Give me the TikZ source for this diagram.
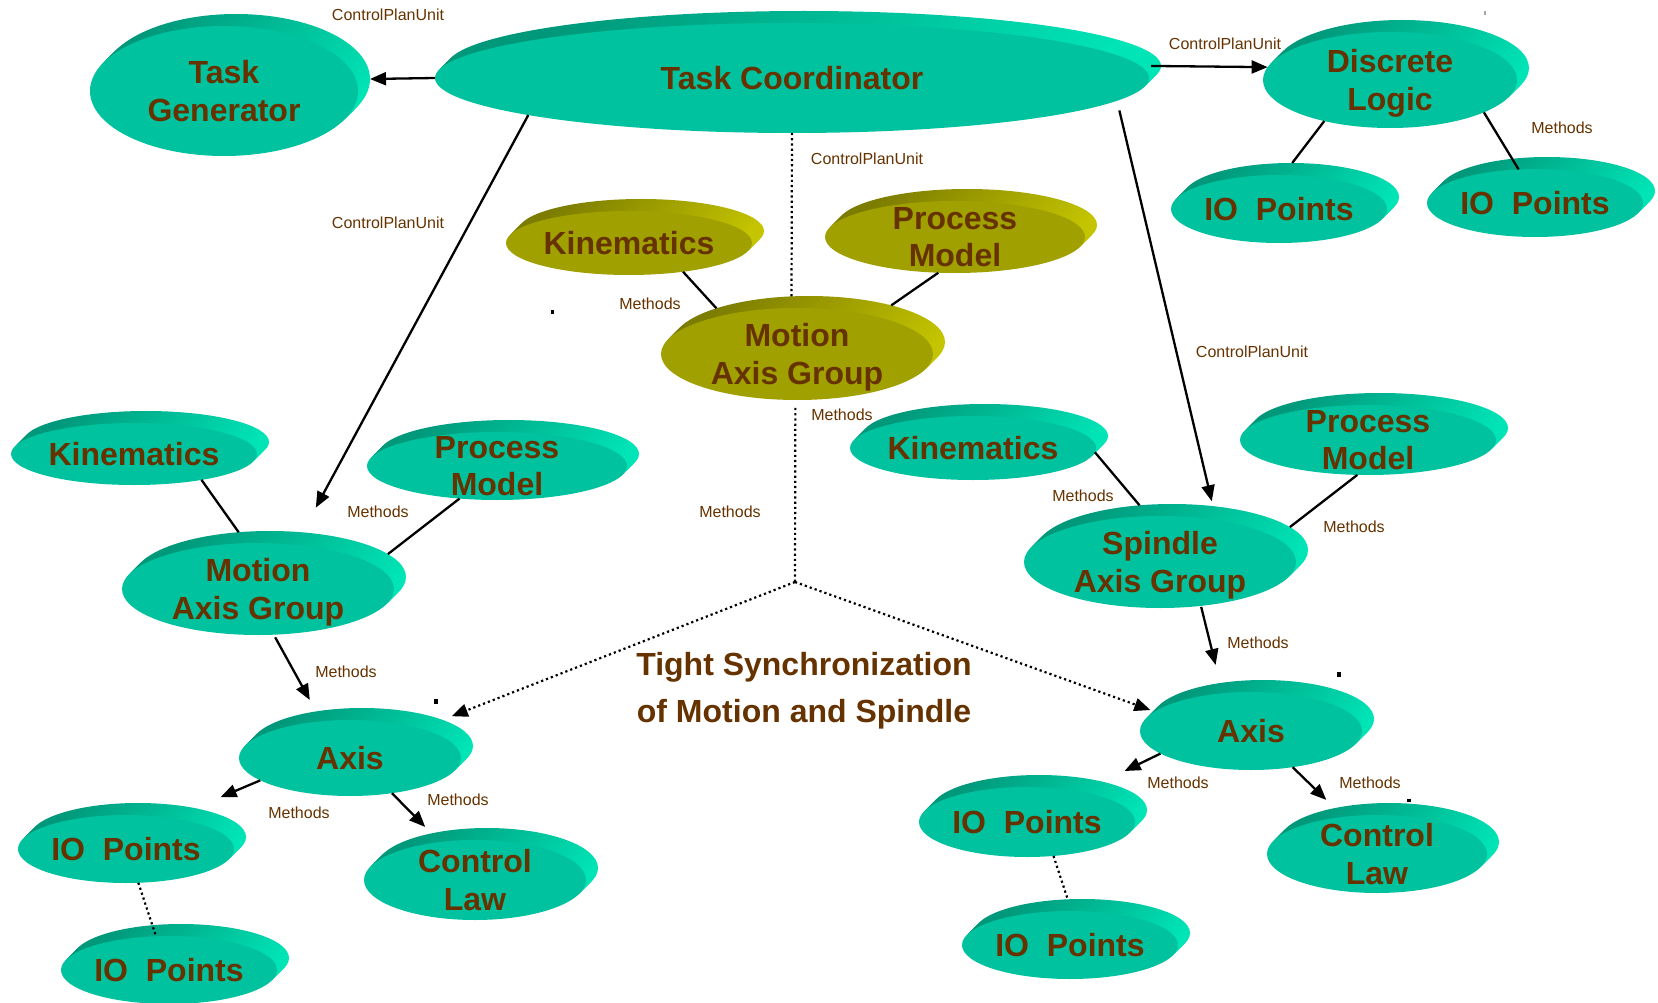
\documentclass[tikz,border=0pt]{standalone}
\usepackage{fontspec}
\setmainfont{Liberation Sans}
\usetikzlibrary{shapes.geometric,arrows.meta}
\definecolor{tealF}{RGB}{0,194,158}
\definecolor{tealD}{RGB}{0,152,122}
\definecolor{tealL}{RGB}{0,228,182}
\definecolor{oliveF}{RGB}{160,160,0}
\definecolor{oliveD}{RGB}{124,124,0}
\definecolor{oliveL}{RGB}{196,196,0}
\definecolor{brownT}{RGB}{102,51,0}
\tikzset{
 rimT/.style={top color=tealD, bottom color=tealL, shading angle=45},
 rimO/.style={top color=oliveD, bottom color=oliveL, shading angle=45},
 ghost/.style={ellipse, inner sep=0pt, outer sep=0pt, draw=none},
 frontT/.style={ellipse, inner sep=0pt, outer sep=0pt, fill=tealF},
 frontO/.style={ellipse, inner sep=0pt, outer sep=0pt, fill=oliveF},
 ntext/.style={text=brownT, font=\fontsize{32}{37.5}\selectfont\bfseries, align=center, inner sep=0pt},
 lbl/.style={text=brownT, font=\fontsize{16}{19}\selectfont, inner sep=0pt},
 conn/.style={line width=2.3pt, black},
 arr/.style={conn, -{Triangle[length=16pt,width=13pt]}},
 dots/.style={line width=2.2pt, black, dash pattern=on 2.2pt off 3pt},
 dotarr/.style={dots, -{Triangle[length=16pt,width=13pt]}},
}
% name, x, y, rx, ry, text, T/O
\newcommand\mydisk[7]{%
  \foreach \k in {12,10,8,6,4,2}{\path[rim#7] (#2+\k,#3-\k) ellipse [x radius=#4pt, y radius=#5pt];}
  \node[ghost, minimum width=2*#4pt, minimum height=2*#5pt] (#1B) at (#2+12,#3-12) {};
  \node[front#7, minimum width=2*#4pt, minimum height=2*#5pt] (#1) at (#2,#3) {};
  \node[ntext, text depth=0pt] (#1t) at (#1.center) {#6};
}
\begin{document}
\begin{tikzpicture}[x=1pt,y=-1pt]
\useasboundingbox (0,0) rectangle (1658,1003);
\fill[white] (0,0) rectangle (1658,1003);

\mydisk{tg}{224}{91}{134}{65}{Task\\Generator}{T}
\mydisk{tc}{792}{78}{357}{55}{Task Coordinator}{T}
\mydisk{dl}{1390}{80}{127}{48}{Discrete\\Logic}{T}
\mydisk{ioDa}{1279}{209}{108}{34}{IO\ \ Points}{T}
\mydisk{ioDb}{1535}{203}{108}{34}{IO\ \ Points}{T}
\mydisk{kinC}{629}{243}{123}{32}{Kinematics}{O}
\mydisk{pmC}{955}{237}{130}{36}{Process\\Model}{O}
\mydisk{magC}{797}{354}{136}{46}{Motion\\Axis Group}{O}
\mydisk{kinL}{134}{454}{123}{31}{Kinematics}{T}
\mydisk{pmL}{497}{466}{130}{34}{Process\\Model}{T}
\mydisk{magL}{258}{589}{136}{46}{Motion\\Axis Group}{T}
\mydisk{axL}{350}{758}{111}{38}{Axis}{T}
\mydisk{ioLa}{126}{849}{108}{34}{IO\ \ Points}{T}
\mydisk{clL}{475}{880}{111}{40}{Control\\Law}{T}
\mydisk{ioLb}{169}{970}{108}{34}{IO\ \ Points}{T}
\mydisk{kinR}{973}{448}{123}{32}{Kinematics}{T}
\mydisk{pmR}{1368}{440}{128}{35}{Process\\Model}{T}
\mydisk{sag}{1160}{562}{136}{46}{Spindle\\Axis Group}{T}
\mydisk{axR}{1251}{731}{111}{39}{Axis}{T}
\mydisk{ioRa}{1027}{822}{108}{35}{IO\ \ Points}{T}
\mydisk{clR}{1377}{854}{110}{39}{Control\\Law}{T}
\mydisk{ioRb}{1070}{945}{108}{34}{IO\ \ Points}{T}

% connectors
\draw[arr] (tc.180) -- (tgB.0);
\draw[arr, shorten <=11pt] (tc.2) -- (dl.174);
\draw[arr, shorten >=28pt] (tc.188.8) -- (magLB.54.3);
\draw[arr, shorten <=10pt, shorten >=5pt] (tc.-4.1) -- (sagB.47.5);
\draw[conn] (kinC.-28.6) -- (magCB.160.2);
\draw[conn] (pmC.245.9) -- (magCB.24.7);
\draw[dots] (tc.270) -- (magCB.111.5);
\coordinate (jn) at (795,582);
\draw[dots, shorten <=8pt] (magC.-92) -- (jn);
\draw[dotarr, shorten >=10pt] (jn) -- (axLB.18.4);
\draw[dotarr, shorten >=4pt] (jn) -- (axRB.176.5);
\draw[conn] (kinL.-21.4) -- (magLB.125.4);
\draw[conn] (pmL.221.2) -- (magLB.11);
\draw[arr, shorten <=3pt, shorten >=13pt] (magL.-71.9) -- (axLB.143.4);
\draw[arr, shorten >=28pt] (axL.194) -- (ioLaB.27.4);
\draw[arr, shorten >=9pt] (axL.-40.7) -- (clLB.148.7);
\draw[dots] (ioLa.-70.6) -- (ioLb.111);
\draw[arr, shorten <=1pt, shorten >=18.6pt] (sag.-47) -- (axRB.140.9);
\draw[conn] (kinR.-2) -- (sagB.126.3);
\draw[conn] (pmR.253) -- (sagB.11.6);
\draw[arr, shorten >=24.5pt] (axR.194.2) -- (ioRaB.24.9);
\draw[arr, shorten >=11.7pt] (axR.-41.5) -- (clRB.148.2);
\draw[dots] (ioRa.-52) -- (ioRbB.113.2);
\draw[conn] (dl.212.1) -- (ioDaB.88.2);
\draw[conn] (dl.-19.6) -- (ioDb.116.6);

% labels
\node[lbl] (l1) at (388,15) {ControlPlanUnit};
\node[lbl] (l2) at (1225,44) {ControlPlanUnit};
\node[lbl] (l3) at (867,159) {ControlPlanUnit};
\node[lbl] (l4) at (388,223) {ControlPlanUnit};
\node[lbl] (l5) at (1252,352) {ControlPlanUnit};
\node[lbl] (m1) at (1562,128) {Methods};
\node[lbl] (m2) at (650,304) {Methods};
\node[lbl] (m3) at (842,415) {Methods};
\node[lbl] (m4) at (730,512) {Methods};
\node[lbl] (m5) at (378,512) {Methods};
\node[lbl] (m6) at (346,672) {Methods};
\node[lbl] (m7) at (299,813) {Methods};
\node[lbl] (m8) at (458,800) {Methods};
\node[lbl] (m9) at (1083,496) {Methods};
\node[lbl] (m10) at (1354,527) {Methods};
\node[lbl] (m11) at (1258,643) {Methods};
\node[lbl] (m12) at (1178,783) {Methods};
\node[lbl] (m13) at (1370,783) {Methods};

\node[ntext, anchor=base] (sync1) at (804,675) {Tight Synchronization};
\node[ntext, anchor=base] (sync2) at (804,722) {of Motion and Spindle};

% stray marks
\fill (551,310) rectangle ++(2.5,4);
\fill (434,699) rectangle ++(4,5);
\fill (1337,672) rectangle ++(4,5);
\fill (1407,799) rectangle ++(4,3);
\fill[black!35] (1484,11) rectangle ++(1.5,4);
\end{tikzpicture}
\end{document}
